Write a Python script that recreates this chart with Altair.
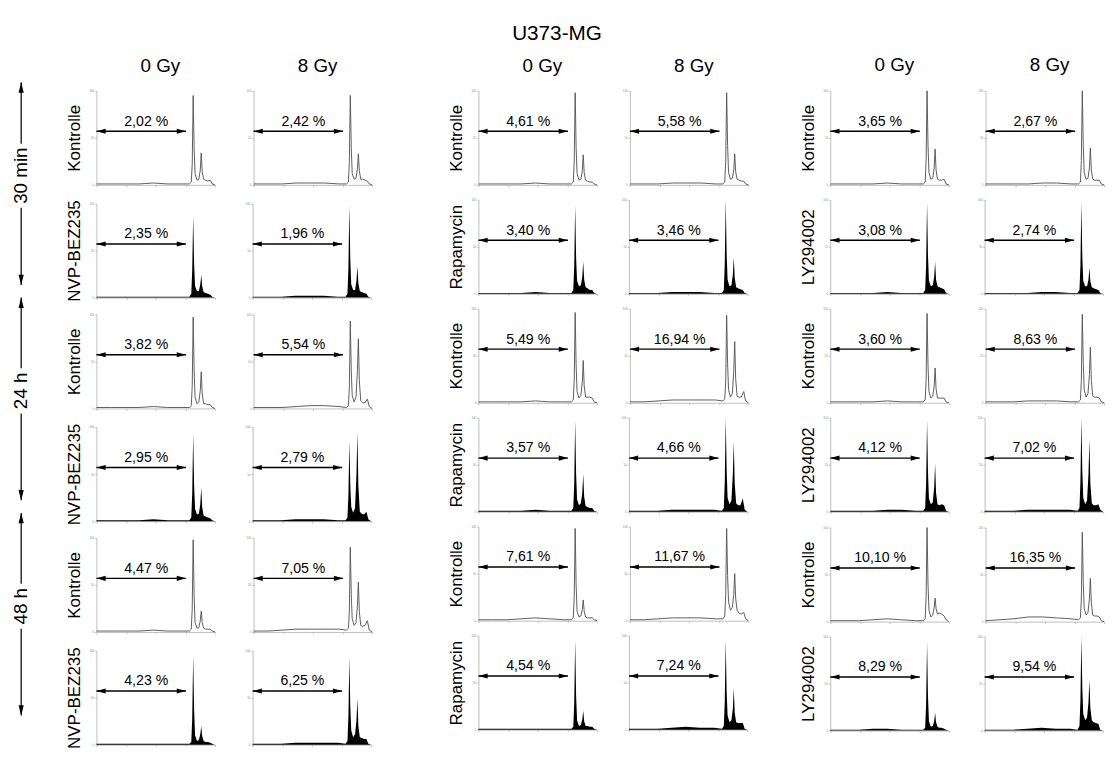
import altair as alt
import pandas as pd

FONT = "Liberation Sans"

# ---------------- data ----------------
channels = [0, 120, 240, 360, 480, 600, 720, 784, 800, 808, 816, 824,
            832, 848, 864, 876, 884, 892, 904, 920, 940, 960, 976, 1000]

doses = ["0 Gy", "8 Gy"]
treatments = ["NVP-BEZ235", "Rapamycin", "LY294002"]
times = ["30 min", "24 h", "48 h"]
control = "Kontrolle"

# sub-G1 percentages, columns: NVP 0/8 Gy, Rapamycin 0/8 Gy, LY 0/8 Gy
pct_30min_ctrl = ["2,02 %", "2,42 %", "4,61 %", "5,58 %", "3,65 %", "2,67 %"]
pct_30min_drug = ["2,35 %", "1,96 %", "3,40 %", "3,46 %", "3,08 %", "2,74 %"]
pct_24h_ctrl = ["3,82 %", "5,54 %", "5,49 %", "16,94 %", "3,60 %", "8,63 %"]
pct_24h_drug = ["2,95 %", "2,79 %", "3,57 %", "4,66 %", "4,12 %", "7,02 %"]
pct_48h_ctrl = ["4,47 %", "7,05 %", "7,61 %", "11,67 %", "10,10 %", "16,35 %"]
pct_48h_drug = ["4,23 %", "6,25 %", "4,54 %", "7,24 %", "8,29 %", "9,54 %"]

# histogram counts (% of axis maximum) at the channels above
counts_30min_ctrl = [
    [1, 1, 1, 1, 2, 1, 1, 1, 3, 22, 95, 38, 12, 5, 6, 16, 34, 14, 6, 5, 4, 5, 1, 0],
    [1, 1, 1, 2, 2, 2, 1, 1, 3, 24, 95, 40, 12, 6, 7, 17, 33, 15, 6, 6, 5, 4, 1, 0],
    [1, 1, 1, 1, 2, 1, 1, 1, 3, 25, 98, 40, 12, 5, 6, 15, 32, 13, 5, 4, 3, 3, 1, 0],
    [1, 1, 1, 2, 2, 2, 1, 1, 3, 25, 98, 42, 13, 6, 7, 16, 33, 14, 6, 5, 4, 4, 1, 0],
    [1, 1, 1, 1, 2, 1, 1, 1, 3, 26, 100, 42, 13, 6, 7, 18, 38, 16, 6, 5, 5, 6, 1, 0],
    [1, 1, 1, 1, 2, 2, 1, 1, 3, 26, 100, 42, 13, 6, 7, 18, 39, 16, 6, 5, 5, 5, 1, 0],
]
counts_30min_drug = [
    [1, 1, 1, 1, 1, 1, 1, 1, 4, 30, 87, 35, 12, 7, 7, 14, 24, 12, 6, 5, 4, 3, 1, 0],
    [1, 1, 1, 2, 2, 2, 1, 1, 4, 32, 98, 40, 14, 8, 8, 18, 33, 15, 7, 6, 5, 4, 1, 0],
    [1, 1, 1, 1, 2, 1, 1, 1, 4, 30, 94, 38, 14, 8, 9, 18, 34, 15, 7, 6, 4, 4, 1, 0],
    [1, 1, 1, 2, 2, 2, 1, 1, 4, 32, 100, 42, 15, 8, 9, 20, 39, 17, 7, 6, 5, 4, 1, 0],
    [1, 1, 1, 1, 2, 1, 1, 1, 4, 30, 97, 40, 14, 8, 9, 18, 34, 15, 8, 7, 6, 5, 1, 0],
    [1, 1, 1, 1, 2, 2, 1, 1, 4, 30, 97, 40, 14, 8, 8, 15, 28, 13, 7, 6, 5, 4, 1, 0],
]
counts_24h_ctrl = [
    [1, 1, 1, 1, 2, 1, 1, 1, 3, 24, 97, 40, 12, 5, 7, 19, 39, 16, 5, 5, 4, 4, 1, 0],
    [1, 1, 1, 2, 3, 3, 2, 1, 3, 22, 93, 40, 14, 7, 12, 40, 74, 30, 8, 6, 6, 10, 2, 0],
    [1, 1, 1, 1, 2, 1, 1, 1, 3, 24, 96, 40, 12, 5, 8, 22, 45, 18, 6, 6, 6, 5, 1, 0],
    [1, 1, 2, 3, 3, 3, 3, 2, 4, 22, 93, 42, 14, 6, 10, 34, 65, 26, 7, 6, 6, 12, 2, 0],
    [1, 1, 1, 1, 2, 1, 1, 1, 3, 24, 95, 40, 12, 5, 7, 18, 37, 15, 5, 5, 5, 5, 1, 0],
    [1, 1, 1, 2, 2, 2, 1, 1, 3, 24, 94, 42, 14, 6, 10, 30, 59, 24, 7, 6, 6, 5, 1, 0],
]
counts_24h_drug = [
    [1, 1, 1, 1, 2, 1, 1, 1, 4, 30, 93, 38, 13, 7, 8, 18, 36, 15, 6, 5, 4, 3, 1, 0],
    [1, 1, 1, 2, 2, 2, 1, 1, 4, 28, 85, 38, 15, 9, 14, 50, 95, 38, 10, 8, 7, 10, 2, 0],
    [1, 1, 1, 1, 2, 1, 1, 1, 4, 30, 97, 40, 13, 7, 9, 20, 40, 16, 6, 5, 4, 4, 1, 0],
    [1, 1, 1, 2, 2, 2, 2, 1, 4, 32, 100, 44, 15, 8, 12, 40, 74, 30, 9, 7, 7, 14, 2, 0],
    [1, 1, 1, 1, 2, 2, 1, 1, 4, 30, 97, 42, 14, 8, 10, 26, 51, 20, 8, 7, 8, 7, 1, 0],
    [1, 1, 1, 2, 2, 2, 2, 1, 4, 32, 100, 44, 15, 8, 12, 40, 77, 30, 9, 7, 7, 8, 2, 0],
]
counts_48h_ctrl = [
    [1, 1, 1, 1, 2, 1, 1, 1, 3, 25, 98, 38, 10, 4, 5, 12, 22, 10, 4, 3, 3, 3, 1, 0],
    [1, 1, 2, 3, 3, 3, 3, 2, 4, 22, 90, 40, 14, 7, 10, 28, 53, 22, 7, 6, 7, 12, 2, 0],
    [1, 1, 1, 2, 3, 2, 1, 1, 3, 25, 98, 38, 10, 4, 5, 12, 22, 10, 4, 3, 3, 3, 1, 0],
    [1, 1, 2, 3, 3, 3, 2, 2, 5, 28, 98, 48, 20, 11, 14, 28, 50, 24, 11, 8, 7, 9, 2, 0],
    [1, 1, 1, 2, 3, 2, 1, 1, 3, 26, 100, 40, 12, 5, 7, 15, 25, 14, 8, 9, 8, 6, 2, 0],
    [1, 2, 3, 5, 5, 4, 3, 2, 4, 24, 95, 42, 14, 7, 10, 24, 46, 20, 7, 6, 6, 5, 1, 0],
]
counts_48h_drug = [
    [1, 1, 1, 1, 1, 1, 1, 1, 3, 28, 95, 36, 10, 4, 5, 11, 20, 9, 4, 3, 3, 2, 1, 0],
    [1, 1, 1, 2, 2, 2, 2, 1, 4, 30, 93, 40, 15, 8, 11, 26, 49, 20, 8, 7, 6, 6, 1, 0],
    [1, 1, 1, 1, 1, 1, 1, 1, 3, 28, 95, 36, 10, 4, 5, 11, 20, 9, 4, 4, 3, 3, 1, 0],
    [1, 1, 1, 2, 3, 2, 2, 1, 4, 30, 95, 40, 15, 8, 10, 22, 44, 18, 8, 7, 7, 7, 1, 0],
    [1, 1, 1, 2, 2, 1, 1, 1, 3, 28, 94, 36, 10, 4, 5, 10, 19, 9, 4, 3, 3, 2, 1, 0],
    [1, 1, 1, 2, 3, 2, 2, 1, 5, 32, 100, 46, 18, 11, 14, 30, 54, 24, 11, 9, 8, 7, 1, 0],
]

# gate (sub-G1 region) marked by the double arrow, and its label position
gate_from, gate_to, gate_level = 0, 755, 57
label_ch, label_level = 420, 60

# ---------------- layout ----------------
W, H = 126, 100
SV = 11.8                    # vertical spacing between rows
P = H + SV + 2.6             # row pitch (x-axis ticks add ~2.6 px)
HDR_FS, HDR_OFF = 20, 15     # column header font size / offset
LEFT_W = 28
LEFT_H = 5 * P + H

LEFT_HEAD = "M0,0L2,-0.55L2,0.55Z"
RIGHT_HEAD = "M0,0L-2,-0.55L-2,0.55Z"
UP_HEAD = "M0,0L-0.5,2L0.5,2Z"
DOWN_HEAD = "M0,0L-0.5,-2L0.5,-2Z"


def panel(counts, pct, filled, row_label=None, header=None):
    xenc = alt.X("ch:Q", scale=alt.Scale(domain=[0, 1000], nice=False, zero=False),
                 axis=alt.Axis(title=None, values=[0, 250, 500, 750, 1000], labels=False,
                               tickSize=2, tickColor="#999", tickWidth=0.6,
                               domainColor="#aaa", domainWidth=0.8, grid=False))
    yaxis_kw = dict(values=[0, 50, 100], labelFontSize=3, labelColor="#888", labelPadding=1,
                    tickSize=2, tickColor="#999", tickWidth=0.6, domainColor="#aaa",
                    domainWidth=0.8, grid=False)
    if row_label:
        yax = alt.Axis(title=row_label, titleFontSize=18, titleFontWeight="normal",
                       titleColor="black", titleFont=FONT, titlePadding=6, **yaxis_kw)
    else:
        yax = alt.Axis(title=None, **yaxis_kw)
    yenc = alt.Y("n:Q", scale=alt.Scale(domain=[0, 100], nice=False, zero=True), axis=yax)

    hist_df = pd.DataFrame({"ch": channels, "n": counts})
    if filled:
        hist = alt.Chart(hist_df).mark_area(color="black", interpolate="linear")
    else:
        hist = alt.Chart(hist_df).mark_line(color="#555", strokeWidth=1, interpolate="linear")
    hist = hist.encode(x=xenc, y=yenc)

    rule = alt.Chart(pd.DataFrame({"ch": [gate_from], "ch2": [gate_to], "n": [gate_level]})) \
        .mark_rule(color="black", strokeWidth=1.5).encode(x=xenc, x2="ch2:Q", y=yenc)
    lhead = alt.Chart(pd.DataFrame({"ch": [gate_from], "n": [gate_level]})) \
        .mark_point(shape=LEFT_HEAD, filled=True, color="black", size=95, opacity=1, strokeWidth=0) \
        .encode(x=xenc, y=yenc)
    rhead = alt.Chart(pd.DataFrame({"ch": [gate_to], "n": [gate_level]})) \
        .mark_point(shape=RIGHT_HEAD, filled=True, color="black", size=95, opacity=1, strokeWidth=0) \
        .encode(x=xenc, y=yenc)
    txt = alt.Chart(pd.DataFrame({"ch": [label_ch], "n": [label_level], "t": [pct]})) \
        .mark_text(fontSize=15, baseline="bottom", align="center", font=FONT, color="black") \
        .encode(x=xenc, y=yenc, text="t:N")

    ch = alt.layer(hist, rule, lhead, rhead, txt).properties(width=W, height=H)
    if header:
        ch = ch.properties(title=alt.TitleParams(text=header, fontSize=HDR_FS, fontWeight="normal",
                                                 font=FONT, anchor="middle", frame="group",
                                                 offset=HDR_OFF, dx=5, color="black"))
    return ch


pct_rows = [pct_30min_ctrl, pct_30min_drug, pct_24h_ctrl, pct_24h_drug, pct_48h_ctrl, pct_48h_drug]
count_rows = [counts_30min_ctrl, counts_30min_drug, counts_24h_ctrl, counts_24h_drug,
              counts_48h_ctrl, counts_48h_drug]


def group(g, inner_spacing):
    rows = []
    for r in range(6):
        is_drug = r % 2 == 1
        lab = treatments[g] if is_drug else control
        cells = []
        for d in range(2):
            c = 2 * g + d
            cells.append(panel(count_rows[r][c], pct_rows[r][c], is_drug,
                               row_label=lab if d == 0 else None,
                               header=doses[d] if r == 0 else None))
        rows.append(alt.hconcat(*cells, spacing=inner_spacing))
    return alt.vconcat(*rows, spacing=SV)


# time labels on the left (positions measured from the top of the first panel row)
seg_y, seg_y2, up_y, down_y, txt_y, half_len = [], [], [], [], [], [30, 20, 20]
for k in range(3):
    top = 2 * k * P
    bottom = top + P + H
    mid = (top + bottom) / 2 - 17
    up_y.append(top - 9)
    down_y.append(bottom - 8)
    txt_y.append(mid)
    seg_y += [top - 9, mid + half_len[k] + 4]
    seg_y2 += [mid - half_len[k] - 4, bottom - 8]

yl = alt.Scale(domain=[0, LEFT_H], reverse=True, nice=False, zero=False)
segs = alt.Chart(pd.DataFrame({"y": seg_y, "y2": seg_y2})).mark_rule(color="black", strokeWidth=1.3) \
    .encode(x=alt.value(14), y=alt.Y("y:Q", scale=yl, axis=None), y2="y2:Q")
ups = alt.Chart(pd.DataFrame({"y": up_y})).mark_point(shape=UP_HEAD, filled=True, color="black",
                                                      size=121, opacity=1, strokeWidth=0) \
    .encode(x=alt.value(14), y=alt.Y("y:Q", scale=yl, axis=None))
downs = alt.Chart(pd.DataFrame({"y": down_y})).mark_point(shape=DOWN_HEAD, filled=True, color="black",
                                                          size=121, opacity=1, strokeWidth=0) \
    .encode(x=alt.value(14), y=alt.Y("y:Q", scale=yl, axis=None))
tlabels = alt.Chart(pd.DataFrame({"y": txt_y, "t": times})).mark_text(
    fontSize=20, angle=270, align="center", baseline="middle", font=FONT, color="black") \
    .encode(x=alt.value(14), y=alt.Y("y:Q", scale=yl, axis=None), text="t:N")
left = alt.layer(segs, ups, downs, tlabels).properties(width=LEFT_W, height=LEFT_H)

g1 = group(0, 30)
g2 = group(1, 24)
g3 = group(2, 28)

chart = alt.hconcat(
    left,
    alt.hconcat(g1, alt.hconcat(g2, g3, spacing=52), spacing=78),
    spacing=33,
).properties(
    title=alt.TitleParams(text="U373-MG", fontSize=22, fontWeight="normal", font=FONT,
                          anchor="middle", offset=12, color="black"),
    padding={"left": 0, "top": -8, "right": 0, "bottom": 0},
).configure(font=FONT).configure_view(stroke=None)

chart.save("out.html", embed_options={"renderer": "svg", "actions": False})
